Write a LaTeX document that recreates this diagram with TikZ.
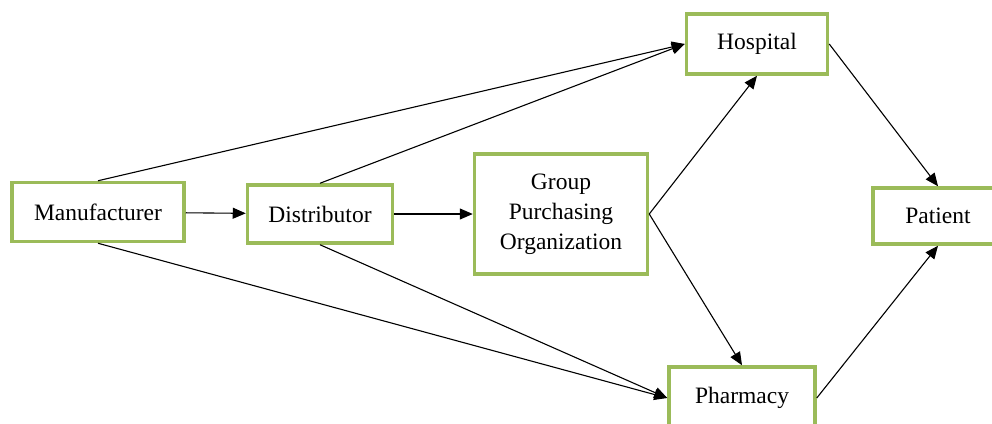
\documentclass[tikz,border=0pt]{standalone}
\usepackage{fontspec}
\setmainfont{Liberation Serif}
\usetikzlibrary{arrows.meta}
\definecolor{boxgreen}{RGB}{155,187,89}
\begin{document}
\begin{tikzpicture}[x=1pt, y=-1pt,
    box/.style={draw=boxgreen, line width=3.5pt, fill=white, align=center,
      font=\fontsize{23.5pt}{30pt}\selectfont},
    flow/.style={-{Triangle[length=13pt, width=11pt]}, line width=1.1pt}]
  \useasboundingbox (0,0) rectangle (992,423);
  \node[box, minimum width=172, minimum height=59] (mfr) at (98,212) {Manufacturer};
  \node[box, minimum width=145, minimum height=58] (dist) at (320,214) {Distributor};
  \node[box, minimum width=173, minimum height=120] (gpo) at (561,214) {Group\\Purchasing\\Organization};
  \node[box, minimum width=141, minimum height=60] (hosp) at (757,44) {Hospital};
  \node[box, minimum width=146, minimum height=62] (pharm) at (742,398) {Pharmacy};
  \node[box, minimum width=130, minimum height=56] (pat) at (938,216) {Patient};
  \draw[flow] (mfr) -- (dist);
  \draw[flow] (dist) -- (gpo);
  \draw[flow] (mfr.north) -- (hosp.west);
  \draw[flow] (dist.north) -- (hosp.west);
  \draw[flow] (mfr.south) -- (pharm.west);
  \draw[flow] (dist.south) -- (pharm.west);
  \draw[flow] (gpo.east) -- (hosp.south);
  \draw[flow] (gpo.east) -- (pharm.north);
  \draw[flow] (hosp.east) -- (pat.north);
  \draw[flow] (pharm.east) -- (pat.south);
\end{tikzpicture}
\end{document}
